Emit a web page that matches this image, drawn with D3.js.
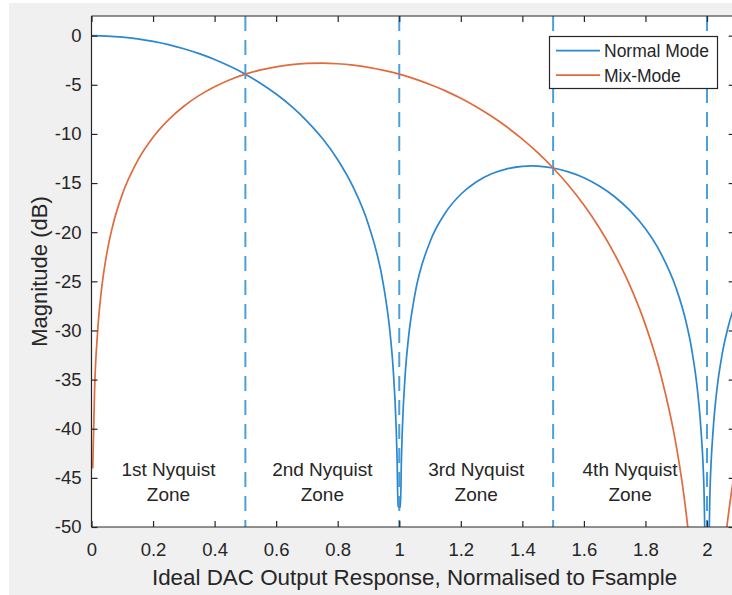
<!DOCTYPE html>
<html>
<head>
<meta charset="utf-8">
<script src="https://cdn.jsdelivr.net/npm/d3@7"></script>
<style>
  html, body { margin: 0; padding: 0; background: #ffffff; }
  svg text { font-family: "Liberation Sans", Arial, Helvetica, sans-serif; fill: #262626; }
</style>
</head>
<body>
<svg id="chart"></svg>
<script>
// frequency (normalised to Fsample) and magnitude in dB
const normalFreq = [0, 0.05, 0.1, 0.15, 0.2, 0.25, 0.3, 0.35, 0.4, 0.45, 0.5, 0.55, 0.6, 0.65, 0.7, 0.75, 0.8, 0.85, 0.9, 0.95, 0.97, 0.98, 0.99, 0.993, 0.996,
    1.004, 1.007, 1.01, 1.02, 1.03, 1.05, 1.1, 1.15, 1.2, 1.25, 1.3, 1.35, 1.4, 1.43, 1.45, 1.5, 1.55, 1.6, 1.65, 1.7, 1.75, 1.8, 1.85, 1.9, 1.93, 1.95, 1.97, 1.98, 1.99, 1.996,
    2.004, 2.01, 2.02, 2.03, 2.05, 2.07, 2.1];
const normalDb = [0, -0.04, -0.14, -0.32, -0.58, -0.91, -1.33, -1.83, -2.42, -3.12, -3.92, -4.86, -5.94, -7.20, -8.69, -10.45, -12.62, -15.39, -19.23, -25.61, -30.21, -33.81, -39.91, -43.04, -47.92,
    -47.99, -43.16, -40.09, -34.16, -30.73, -26.48, -20.97, -18.02, -16.14, -14.89, -14.06, -13.55, -13.30, -13.26, -13.28, -13.47, -13.86, -14.46, -15.30, -16.39, -17.81, -19.66, -22.15, -25.72, -28.88, -31.86, -36.36, -39.92, -45.98, -53.96,
    -54.0, -46.07, -40.09, -36.62, -32.29, -29.49, -26.59];

const mixFreq = [0.004, 0.01, 0.02, 0.03, 0.04, 0.055, 0.07, 0.1, 0.15, 0.2, 0.25, 0.3, 0.35, 0.4, 0.45, 0.5, 0.55, 0.6, 0.65, 0.7, 0.75, 0.8, 0.85, 0.9, 0.95,
    1.0, 1.05, 1.1, 1.15, 1.2, 1.25, 1.3, 1.35, 1.4, 1.45, 1.5, 1.55, 1.6, 1.65, 1.7, 1.75, 1.8, 1.85, 1.9, 1.92, 1.94, 1.96,
    2.04, 2.06, 2.08, 2.1];
const mixDb = [-44.04, -36.08, -30.06, -26.54, -24.05, -21.29, -19.21, -16.15, -12.72, -10.34, -8.57, -7.18, -6.08, -5.20, -4.49, -3.92, -3.49, -3.17, -2.95, -2.83, -2.80, -2.86, -3.00, -3.22, -3.53,
    -3.92, -4.40, -4.97, -5.62, -6.38, -7.24, -8.21, -9.30, -10.53, -11.91, -13.47, -15.23, -17.24, -19.55, -22.25, -25.47, -29.43, -34.54, -41.72, -45.67, -50.73, -57.85,
    -58.20, -51.25, -46.36, -42.59];

const nyquistEdges = [0.5, 1, 1.5, 2];
const zoneCentres = [0.25, 0.75, 1.25, 1.75];
const zoneNames = ["1st Nyquist", "2nd Nyquist", "3rd Nyquist", "4th Nyquist"];
const xTicks = [0, 0.2, 0.4, 0.6, 0.8, 1, 1.2, 1.4, 1.6, 1.8, 2];
const yTicks = [0, -5, -10, -15, -20, -25, -30, -35, -40, -45, -50];
const seriesNames = ["Normal Mode", "Mix-Mode"];

const width = 732, height = 595;
const blue = "#2b87cf", orange = "#e06b3c", axisColor = "#262626";

const svg = d3.select("#chart").attr("width", width).attr("height", height);

// grey figure background (screenshot has thin white margin on top/left)
svg.append("rect").attr("x", 9).attr("y", 3).attr("width", width - 9).attr("height", height - 3).attr("fill", "#f0f0f0");

const x = d3.scaleLinear().domain([0, 2.09]).range([91.5, 734.7]);
const y = d3.scaleLinear().domain([-50, 2]).range([527, 16]);

const plotLeft = x.range()[0], plotRight = x.range()[1], plotTop = y.range()[1], plotBottom = y.range()[0];

svg.append("rect").attr("x", plotLeft).attr("y", plotTop)
    .attr("width", plotRight - plotLeft).attr("height", plotBottom - plotTop).attr("fill", "#fff");

svg.append("clipPath").attr("id", "plot-clip")
    .append("rect").attr("x", plotLeft).attr("y", plotTop)
    .attr("width", plotRight - plotLeft).attr("height", plotBottom - plotTop);

const plot = svg.append("g").attr("clip-path", "url(#plot-clip)");

// nyquist zone boundaries
plot.selectAll("line.edge")
    .data(nyquistEdges)
    .join("line")
    .attr("class", "edge")
    .attr("x1", d => x(d)).attr("x2", d => x(d))
    .attr("y1", plotTop).attr("y2", plotBottom)
    .attr("stroke", "#4aa0dc")
    .attr("stroke-width", 2)
    .attr("stroke-dasharray", "15,9");

const line = d3.line().x(d => x(d[0])).y(d => y(d[1])).curve(d3.curveMonotoneX);

plot.append("path")
    .datum(d3.zip(normalFreq, normalDb))
    .attr("d", line)
    .attr("fill", "none").attr("stroke", blue).attr("stroke-width", 1.7);

plot.append("path")
    .datum(d3.zip(mixFreq, mixDb))
    .attr("d", line)
    .attr("fill", "none").attr("stroke", orange).attr("stroke-width", 1.7);

// zone labels
const zones = svg.append("g").attr("font-size", 19).attr("text-anchor", "middle");
zones.selectAll("text.z1").data(zoneCentres).join("text")
    .attr("class", "z1").attr("x", d => x(d)).attr("y", 475.5)
    .text((d, i) => zoneNames[i]);
zones.selectAll("text.z2").data(zoneCentres).join("text")
    .attr("class", "z2").attr("x", d => x(d)).attr("y", 500.5)
    .text("Zone");

// axes, MATLAB style box with inward ticks
const tickLen = 6;
const fmt = d => String(d); // plain hyphen minus like the original

const xAxis = svg.append("g").attr("transform", `translate(0,${plotBottom})`)
    .call(d3.axisBottom(x).tickValues(xTicks).tickSize(-tickLen).tickPadding(16).tickFormat(fmt));
const xTop = svg.append("g").attr("transform", `translate(0,${plotTop})`)
    .call(d3.axisTop(x).tickValues(xTicks).tickSize(-tickLen).tickFormat(""));
const yAxis = svg.append("g").attr("transform", `translate(${plotLeft},0)`)
    .call(d3.axisLeft(y).tickValues(yTicks).tickSize(-tickLen).tickPadding(10).tickFormat(fmt));
const yRight = svg.append("g").attr("transform", `translate(${plotRight},0)`)
    .call(d3.axisRight(y).tickValues(yTicks).tickSize(-tickLen).tickFormat(""));

[xAxis, xTop, yAxis, yRight].forEach(g => {
    g.select(".domain").attr("stroke", axisColor).attr("stroke-width", 1.2);
    g.selectAll(".tick line").attr("stroke", axisColor).attr("stroke-width", 1.2);
    g.selectAll(".tick text").attr("font-size", 18.5).attr("fill", axisColor)
        .attr("font-family", "'Liberation Sans', Arial, sans-serif");
});
// outer ticks off
[xAxis, xTop].forEach(g => g.select(".domain").attr("d", `M${plotLeft},0H${plotRight}`));
[yAxis, yRight].forEach(g => g.select(".domain").attr("d", `M0,${plotTop}V${plotBottom}`));

// axis titles
svg.append("text")
    .attr("x", 414.5).attr("y", 585)
    .attr("text-anchor", "middle").attr("font-size", 22.4)
    .text("Ideal DAC Output Response, Normalised to Fsample");

svg.append("text")
    .attr("transform", `translate(47,${(plotTop + plotBottom) / 2}) rotate(-90)`)
    .attr("text-anchor", "middle").attr("font-size", 22)
    .text("Magnitude (dB)");

// legend
const legend = svg.append("g");
legend.append("rect").attr("x", 549.5).attr("y", 36.5).attr("width", 168).attr("height", 52)
    .attr("fill", "#fff").attr("stroke", axisColor).attr("stroke-width", 1.2);
const legendColors = [blue, orange];
const legendRows = [50.7, 75.2];
seriesNames.forEach((name, i) => {
    legend.append("line").attr("x1", 556).attr("x2", 600)
        .attr("y1", legendRows[i]).attr("y2", legendRows[i])
        .attr("stroke", legendColors[i]).attr("stroke-width", 1.7);
    legend.append("text").attr("x", 604).attr("y", legendRows[i] + 6.3)
        .attr("font-size", 17.5).text(name);
});
</script>
</body>
</html>
